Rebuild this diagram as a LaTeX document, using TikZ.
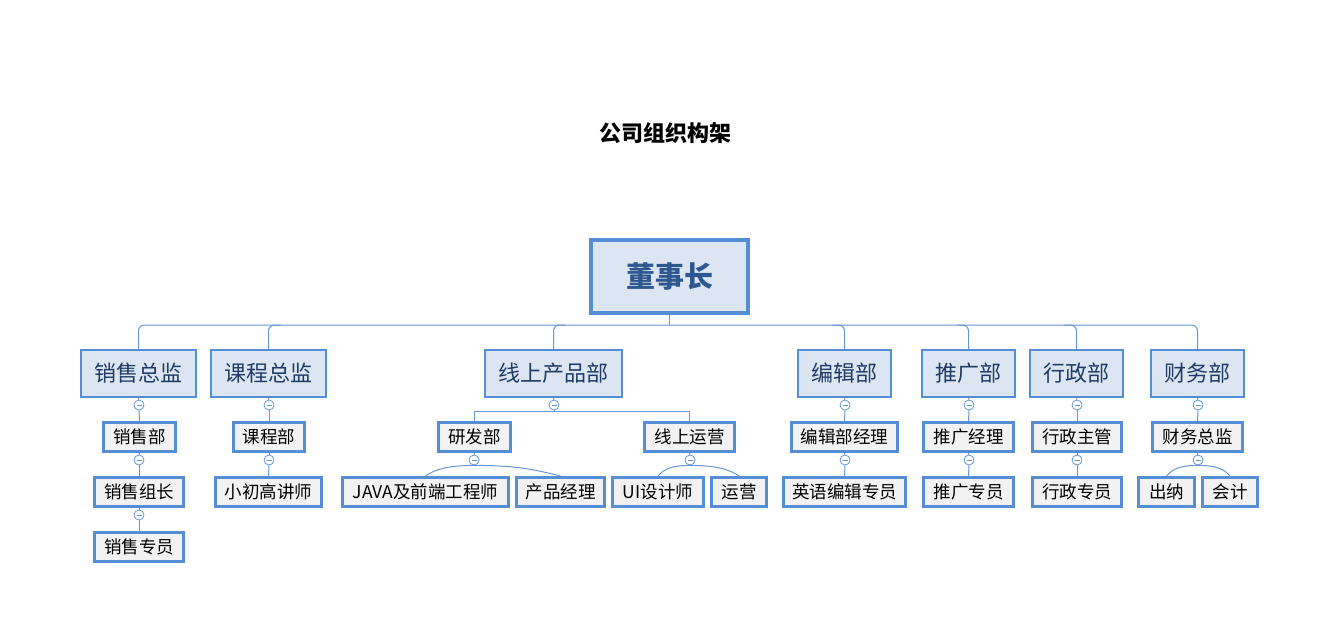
\documentclass[tikz,border=0pt]{standalone}
\usepackage{fontspec}
\setmainfont{Noto Sans CJK SC}
\definecolor{bord}{HTML}{558ED5}
\definecolor{fillA}{HTML}{DCE6F2}
\definecolor{fillB}{HTML}{F2F2F2}
\definecolor{txtA}{HTML}{1F3B66}
\definecolor{txtR}{HTML}{2E568F}
\definecolor{conn}{HTML}{6597D8}
\begin{document}
\begin{tikzpicture}[x=1pt,y=-1pt,
  rootbox/.style={draw=bord,fill=fillA,line width=4pt,inner sep=0pt,minimum width=157pt,minimum height=73pt,text=txtR,font=\fontsize{29}{32}\selectfont\bfseries},
  lvA/.style={draw=bord,fill=fillA,line width=2.2pt,inner sep=0pt,minimum height=47pt,text=txtA,font=\fontsize{22}{26}\selectfont},
  lvB/.style={draw=bord,fill=fillB,line width=3pt,inner sep=0pt,minimum height=29pt,text=black,font=\fontsize{17.5}{20}\selectfont},
  mn/.style={circle,draw=conn,fill=white,line width=0.8pt,minimum size=10pt,inner sep=0pt,
    path picture={\draw[conn,line width=0.8pt]([xshift=2.5pt]path picture bounding box.west) -- ([xshift=-2.5pt]path picture bounding box.east);}},
  ln/.style={draw=conn,line width=1pt},
  busl/.style={draw=conn,line width=1pt,rounded corners=6pt}
]
\useasboundingbox (0,0) rectangle (1320,637);
\node[font=\fontsize{22}{26}\selectfont\bfseries] (title) at (665,133) {公司组织构架};

\node[rootbox] (root) at (669.5,276.5) {董事长};

% level 1
\node[lvA,minimum width=115pt] (a1) at (138.5,373.5) {销售总监};
\node[lvA,minimum width=115pt] (a2) at (268.5,373.5) {课程总监};
\node[lvA,minimum width=137pt] (a3) at (553.5,373.5) {线上产品部};
\node[lvA,minimum width=93pt] (a4) at (844.5,373.5) {编辑部};
\node[lvA,minimum width=93pt] (a5) at (968.5,373.5) {推广部};
\node[lvA,minimum width=93pt] (a6) at (1076.5,373.5) {行政部};
\node[lvA,minimum width=93pt] (a7) at (1197.5,373.5) {财务部};

% level 2
\node[lvB,minimum width=72pt] (b1) at (139.5,437) {销售部};
\node[lvB,minimum width=71pt] (b2) at (269,437) {课程部};
\node[lvB,minimum width=72pt] (b3) at (474.5,437) {研发部};
\node[lvB,minimum width=90pt] (b3b) at (689.5,437) {线上运营};
\node[lvB,minimum width=106pt] (b4) at (844.5,437) {编辑部经理};
\node[lvB,minimum width=90pt] (b5) at (968.5,437) {推广经理};
\node[lvB,minimum width=89pt] (b6) at (1077,437) {行政主管};
\node[lvB,minimum width=90pt] (b7) at (1197.5,437) {财务总监};

% level 3
\node[lvB,minimum width=89pt] (c1) at (139,492) {销售组长};
\node[lvB,minimum width=106pt] (c2) at (268.5,492) {小初高讲师};
\node[lvB,minimum width=166pt] (c3a) at (425.5,492) {JAVA及前端工程师};
\node[lvB,minimum width=88pt] (c3b) at (560.5,492) {产品经理};
\node[lvB,minimum width=91pt] (c3c) at (658,492) {UI设计师};
\node[lvB,minimum width=55pt] (c3d) at (739,492) {运营};
\node[lvB,minimum width=122pt] (c4) at (844.5,492) {英语编辑专员};
\node[lvB,minimum width=90pt] (c5) at (968.5,492) {推广专员};
\node[lvB,minimum width=89pt] (c6) at (1077,492) {行政专员};
\node[lvB,minimum width=56pt] (c7a) at (1166.5,492) {出纳};
\node[lvB,minimum width=55pt] (c7b) at (1230,492) {会计};

% level 4
\node[lvB,minimum width=89pt] (d1) at (139,547) {销售专员};

% bus
\draw[busl] (a1.north) -- (a1.north |- 0,325) -- (a7.north |- 0,325) -- (a7.north);
\draw[ln] (root.south) -- (root.south |- 0,325);
\draw[busl] (a2.north) -- (a2.north |- 0,325) -- ++(12,0);
\draw[busl] (a3.north) -- (a3.north |- 0,325) -- ++(12,0);
\draw[busl] (a4.north) -- (a4.north |- 0,325) -- ++(-12,0);
\draw[busl] (a5.north) -- (a5.north |- 0,325) -- ++(-12,0);
\draw[busl] (a6.north) -- (a6.north |- 0,325) -- ++(-12,0);

% minus circles level 1
\node[mn] (m1) at (139,405) {};
\node[mn] (m2) at (269,405) {};
\node[mn] (m3) at (554,405) {};
\node[mn] (m4) at (845,405) {};
\node[mn] (m5) at (969,405) {};
\node[mn] (m6) at (1077,405) {};
\node[mn] (m7) at (1198,405) {};
% level 2
\node[mn] (n1) at (139,460) {};
\node[mn] (n2) at (269,460) {};
\node[mn] (n3) at (474,460) {};
\node[mn] (n3b) at (690,460) {};
\node[mn] (n4) at (845,460) {};
\node[mn] (n5) at (969,460) {};
\node[mn] (n6) at (1077,460) {};
\node[mn] (n7) at (1198,460) {};
% level 3
\node[mn] (o1) at (139,515) {};

% box to circle
\foreach \b/\m in {a1/m1,a2/m2,a3/m3,a4/m4,a5/m5,a6/m6,a7/m7,b1/n1,b2/n2,b3/n3,b3b/n3b,b4/n4,b5/n5,b6/n6,b7/n7,c1/o1}
  \draw[ln] (\b.south) -- (\m.north);
% circle to single child
\foreach \m/\c in {m1/b1,m2/b2,m4/b4,m5/b5,m6/b6,m7/b7,n1/c1,n2/c2,n4/c4,n5/c5,n6/c6,o1/d1}
  \draw[ln] (\m.south) -- (\c.north);
% 线上产品部 split
\draw[ln] (m3.south) -- ++(0,1) coordinate (s3);
\draw[ln] (b3.north) |- (s3) -| (b3b.north);
% curved splits
\draw[ln] (n3.south) .. controls +(-25,0) and +(10,-7) .. (c3a.north);
\draw[ln] (n3.south) .. controls +(45,0) and +(-25,-6) .. (c3b.north);
\draw[ln] (n3b.south) .. controls +(-18,0) and +(6,-7) .. (c3c.north);
\draw[ln] (n3b.south) .. controls +(25,0) and +(-10,-7) .. (c3d.north);
\draw[ln] (n7.south) .. controls +(-18,0) and +(6,-7) .. (c7a.north);
\draw[ln] (n7.south) .. controls +(18,0) and +(-6,-7) .. (c7b.north);
\end{tikzpicture}
\end{document}
